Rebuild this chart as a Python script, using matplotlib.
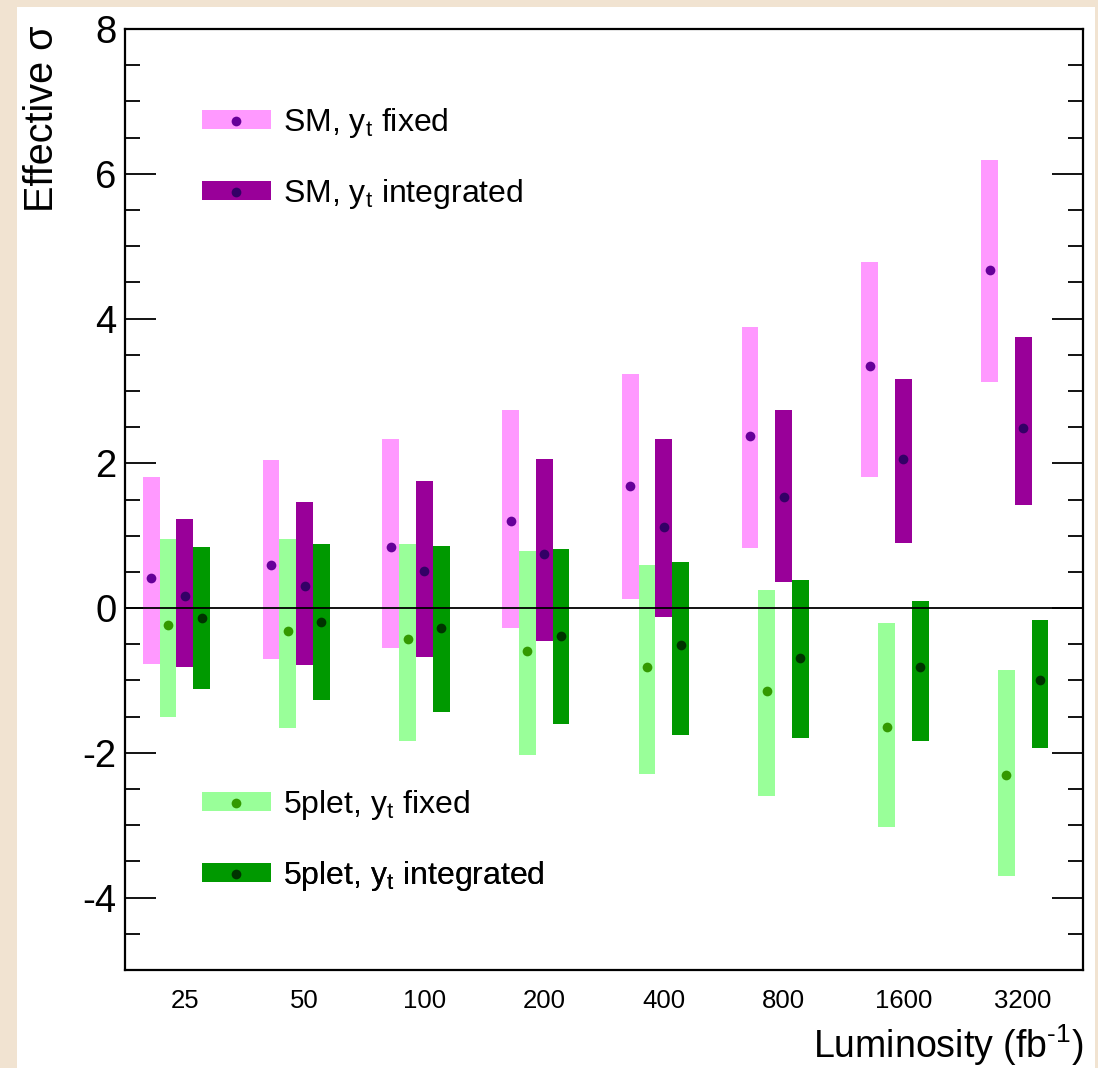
import matplotlib
matplotlib.use("Agg")
import matplotlib.pyplot as plt
from matplotlib.patches import Patch, Rectangle
from matplotlib.lines import Line2D
from matplotlib.legend_handler import HandlerTuple
from matplotlib.ticker import MultipleLocator

plt.rcParams['font.family'] = ['Liberation Sans', 'DejaVu Sans']
plt.rcParams['mathtext.fontset'] = 'custom'
plt.rcParams['mathtext.rm'] = 'Liberation Sans'
plt.rcParams['mathtext.it'] = 'Liberation Sans'
plt.rcParams['axes.unicode_minus'] = False

# ---- data ----
luminosity = ['25', '50', '100', '200', '400', '800', '1600', '3200']

sm_fixed_c = [0.41, 0.60, 0.85, 1.20, 1.68, 2.38, 3.34, 4.67]
sm_fixed_lo = [-0.77, -0.70, -0.55, -0.27, 0.13, 0.83, 1.81, 3.13]
sm_fixed_hi = [1.81, 2.05, 2.34, 2.73, 3.23, 3.89, 4.78, 6.19]

sm_int_c = [0.16, 0.30, 0.51, 0.75, 1.12, 1.53, 2.06, 2.49]
sm_int_lo = [-0.81, -0.79, -0.68, -0.45, -0.12, 0.36, 0.90, 1.42]
sm_int_hi = [1.23, 1.47, 1.75, 2.06, 2.34, 2.74, 3.16, 3.75]

p5_fixed_c = [-0.24, -0.31, -0.43, -0.59, -0.82, -1.15, -1.64, -2.30]
p5_fixed_lo = [-1.51, -1.65, -1.83, -2.03, -2.29, -2.59, -3.03, -3.70]
p5_fixed_hi = [0.95, 0.96, 0.89, 0.79, 0.59, 0.25, -0.21, -0.86]

p5_int_c = [-0.14, -0.19, -0.27, -0.39, -0.51, -0.69, -0.81, -1.00]
p5_int_lo = [-1.12, -1.27, -1.43, -1.60, -1.76, -1.80, -1.84, -1.93]
p5_int_hi = [0.84, 0.88, 0.86, 0.81, 0.64, 0.39, 0.10, -0.16]

series = [
    # label, center, lo, hi, offset, bar colour, dot colour
    ('SM, y$_\\mathregular{t}$ fixed', sm_fixed_c, sm_fixed_lo, sm_fixed_hi, -0.28, '#FF99FF', '#660099'),
    ('5plet, y$_\\mathregular{t}$ fixed', p5_fixed_c, p5_fixed_lo, p5_fixed_hi, -0.14, '#99FF99', '#339900'),
    ('SM, y$_\\mathregular{t}$ integrated', sm_int_c, sm_int_lo, sm_int_hi, 0.0, '#990099', '#330066'),
    ('5plet, y$_\\mathregular{t}$ integrated', p5_int_c, p5_int_lo, p5_int_hi, 0.14, '#009900', '#003300'),
]

W, H = 1098, 1068
fig = plt.figure(figsize=(W / 100, H / 100), dpi=100)
fig.patch.set_facecolor('#F1E3D1')
fig.patches.append(Rectangle((17 / W, 0), (1095 - 17) / W, 1 - 7 / H,
                             transform=fig.transFigure, facecolor='white',
                             edgecolor='none', zorder=-10))

ax = fig.add_axes([125 / W, 1 - 970 / H, (1083 - 125) / W, (970 - 29) / H])
ax.set_facecolor('white')

x = list(range(len(luminosity)))
bw = 0.14
handles = {}
for label, c, lo, hi, off, bc, dc in series:
    xs = [xi + off for xi in x]
    heights = [h - l for h, l in zip(hi, lo)]
    ax.bar(xs, heights, bottom=lo, width=bw, color=bc, edgecolor='none', zorder=2)
    ax.plot(xs, c, 'o', color=dc, markersize=7, markeredgewidth=0, zorder=3)
    handles[label] = (Patch(facecolor=bc, edgecolor='none'),
                      Line2D([], [], marker='o', color=dc, markersize=7,
                             markeredgewidth=0, linestyle='none'))

ax.axhline(0, color='black', lw=1.3, zorder=4)

ax.set_xlim(-0.5, 7.5)
ax.set_ylim(-5, 8)
ax.set_xticks(x)
ax.set_xticklabels(luminosity, fontsize=18.5)
ax.tick_params(axis='x', length=0, pad=14)
ax.yaxis.set_major_locator(MultipleLocator(2))
ax.yaxis.set_minor_locator(MultipleLocator(0.5))
ax.tick_params(axis='y', which='both', direction='in', left=True, right=True,
               labelsize=27.5, pad=6, width=1.3)
ax.tick_params(axis='y', which='major', length=22)
ax.tick_params(axis='y', which='minor', length=11)
for s in ax.spines.values():
    s.set_linewidth(1.6)

fig.text(42 / W, 1 - 26 / H, 'Effective σ', rotation=90, ha='center', va='top', fontsize=28.5)
fig.text(1083 / W, 1 - 1058 / H, 'Luminosity (fb$^{\\mathregular{\u20101}}$)', ha='right',
         va='baseline', fontsize=27)

# legend entries, one per row
order = [(series[0][0], 123), (series[2][0], 194), (series[1][0], 805), (series[3][0], 876)]
for label, yc in order:
    leg = ax.legend([handles[label]], [label], handler_map={tuple: HandlerTuple(ndivide=1, pad=0)},
                    loc='center left', bbox_to_anchor=((202 - 125) / 958, (970 - yc) / 941),
                    frameon=False, fontsize=23, handlelength=2.15, handleheight=0.55,
                    handletextpad=0.4, borderpad=0, borderaxespad=0)
    ax.add_artist(leg)

fig.savefig('out.png', dpi=100, facecolor=fig.get_facecolor())
